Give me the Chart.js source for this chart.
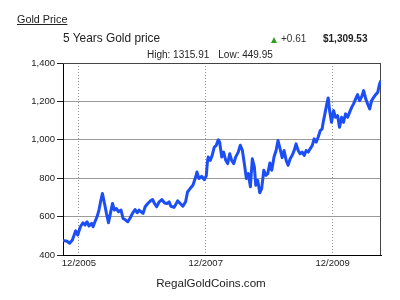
<!DOCTYPE html>
<html lang="en">
<head>
  <meta charset="UTF-8">
  <title>Gold Price</title>
  <script src="https://cdn.jsdelivr.net/npm/chart.js"></script>
  <style>
    body {
      margin: 0;
      background: #fff;
      font-family: "Liberation Sans", Arial, sans-serif;
      color: #222;
    }
    #wrap {
      position: relative;
      width: 400px;
      height: 300px;
      overflow: hidden;
    }
    #wrap canvas { position: absolute; left: 0; top: 0; }
    .txt { position: absolute; line-height: 1; white-space: nowrap; }
    #head { left: 17px; top: 14.4px; font-size: 10.8px; text-decoration: underline; }
    #title { left: 63px; top: 33.3px; font-size: 11.9px; }
    #tri {
      position: absolute; left: 271px; top: 36.5px; width: 0; height: 0;
      border-left: 3.5px solid transparent; border-right: 3.5px solid transparent;
      border-bottom: 6px solid #2e9e1f;
    }
    #chg { left: 281px; top: 34.2px; font-size: 10px; color: #333; }
    #last { left: 323px; top: 34.2px; font-size: 10px; font-weight: bold; }
    #hilo { left: 147px; top: 49.5px; font-size: 10px; }
    #hilo span + span { margin-left: 9px; }
    #site { left: 0; width: 422px; text-align: center; top: 276.8px; font-size: 11.6px; }
  </style>
</head>
<body>
  <div id="wrap">
    <canvas id="chartGold" width="400" height="300"></canvas>
    <div class="txt" id="head">Gold Price</div>
    <div class="txt" id="title">5 Years Gold price</div>
    <div id="tri"></div>
    <div class="txt" id="chg">+0.61</div>
    <div class="txt" id="last">$1,309.53</div>
    <div class="txt" id="hilo"><span>High: 1315.91</span><span>Low: 449.95</span></div>
    <div class="txt" id="site">RegalGoldCoins.com</div>
  </div>
  <script>
    // precios
    const dates = [
      '2005-08-31','2005-09-23','2005-10-08','2005-10-24','2005-11-12','2005-11-24','2005-12-09','2005-12-24',
      '2006-01-05','2006-01-16','2006-01-28','2006-02-12','2006-02-20','2006-03-03','2006-03-15','2006-03-26',
      '2006-04-07','2006-04-15','2006-04-27','2006-05-08','2006-05-20','2006-05-31','2006-06-12','2006-06-23',
      '2006-07-05','2006-07-16','2006-07-31','2006-08-12','2006-08-27','2006-09-08','2006-09-20','2006-10-05',
      '2006-10-20','2006-11-01','2006-11-12','2006-11-24','2006-12-05','2006-12-17','2007-01-01','2007-01-17',
      '2007-01-29','2007-02-09','2007-02-21','2007-03-08','2007-03-23','2007-04-08','2007-04-23','2007-05-04',
      '2007-05-14','2007-06-02','2007-06-22','2007-07-07','2007-07-22','2007-08-07','2007-08-18','2007-09-02',
      '2007-09-18','2007-10-04','2007-10-11','2007-10-23','2007-11-07','2007-11-22','2007-12-04','2007-12-10',
      '2007-12-15','2007-12-27','2008-01-07','2008-01-19','2008-01-30','2008-02-11','2008-02-19','2008-03-02',
      '2008-03-13','2008-03-25','2008-04-05','2008-04-17','2008-04-28','2008-05-10','2008-05-21','2008-06-05',
      '2008-06-17','2008-06-29','2008-07-10','2008-07-22','2008-08-02','2008-08-14','2008-08-25','2008-09-06',
      '2008-09-14','2008-09-25','2008-10-07','2008-10-18','2008-10-30','2008-11-11','2008-11-22','2008-12-04',
      '2008-12-15','2008-12-28','2009-01-09','2009-01-20','2009-02-01','2009-02-13','2009-02-24','2009-03-08',
      '2009-03-19','2009-03-31','2009-04-11','2009-04-23','2009-05-04','2009-05-16','2009-05-27','2009-06-08',
      '2009-06-20','2009-07-01','2009-07-13','2009-07-24','2009-08-05','2009-08-16','2009-08-28','2009-09-08',
      '2009-09-20','2009-10-01','2009-10-09','2009-10-17','2009-10-28','2009-11-05','2009-11-13','2009-11-24',
      '2009-12-06','2009-12-17','2009-12-29','2010-01-09','2010-01-21','2010-02-01','2010-02-13','2010-02-25',
      '2010-03-08','2010-03-20','2010-03-31','2010-04-12','2010-04-23','2010-05-05','2010-05-17','2010-05-28',
      '2010-06-09','2010-06-20','2010-07-02','2010-07-13','2010-07-25','2010-08-05','2010-08-17','2010-08-28',
      '2010-09-05'
    ];
    const prices = [
      475, 472, 461, 478, 526, 504, 547, 568,
      556, 573, 551, 565, 547, 573, 599, 634,
      689, 720, 668, 617, 568, 617, 668, 634,
      642, 625, 634, 590, 582, 573, 590, 617,
      637, 620, 634, 625, 617, 651, 668, 682,
      689, 668, 651, 677, 689, 671, 668, 677,
      654, 648, 682, 668, 654, 677, 728, 746,
      763, 806, 832, 798, 810, 793, 812, 880,
      910, 893, 919, 962, 970, 1000, 987, 910,
      936, 893, 876, 927, 893, 876, 910, 936,
      972, 944, 876, 798, 824, 755, 901, 858,
      763, 789, 724, 746, 841, 815, 824, 879,
      841, 910, 944, 996, 953, 907, 944, 893,
      867, 901, 918, 944, 979, 944, 927, 936,
      918, 944, 936, 953, 970, 1005, 988, 1013,
      1048, 1057, 1100, 1135, 1187, 1218, 1152, 1091,
      1152, 1117, 1126, 1065, 1117, 1091, 1135, 1117,
      1143, 1169, 1187, 1213, 1235, 1204, 1225, 1256,
      1213, 1187, 1161, 1204, 1221, 1235, 1247, 1291,
      1309
    ];
    const yTicks = [400, 600, 800, 1000, 1200, 1400];
    const xTickDates = ['2005-12-01', '2007-12-01', '2009-12-01'];
    const xTickLabels = ['12/2005', '12/2007', '12/2009'];

    function toMs(s) {
      const p = s.split('-').map(Number);
      return Date.UTC(p[0], p[1] - 1, p[2]);
    }

    const puntos = dates.map((d, i) => ({ x: toMs(d), y: prices[i] }));
    const tickMs = xTickDates.map(toMs);

    // marco superior y derecho del area
    const marco = {
      id: 'marco',
      beforeDatasetsDraw(chart) {
        const a = chart.chartArea;
        const ctx = chart.ctx;
        ctx.save();
        ctx.strokeStyle = '#444';
        ctx.lineWidth = 1;
        ctx.beginPath();
        ctx.moveTo(a.left, a.top + 0.5);
        ctx.lineTo(a.right - 0.5, a.top + 0.5);
        ctx.lineTo(a.right - 0.5, a.bottom);
        ctx.stroke();
        ctx.restore();
      }
    };

    Chart.defaults.font.family = '"Liberation Sans", Arial, sans-serif';

    new Chart(document.getElementById('chartGold'), {
      type: 'line',
      data: {
        datasets: [{
          data: puntos,
          borderColor: '#1c4ef5',
          borderWidth: 3,
          pointRadius: 0,
          tension: 0,
          borderJoinStyle: 'round',
          fill: false
        }]
      },
      options: {
        responsive: false,
        animation: false,
        layout: { padding: { top: 63, right: 19, bottom: 0, left: 0 } },
        plugins: { legend: { display: false }, tooltip: { enabled: false } },
        scales: {
          x: {
            type: 'linear',
            min: toMs('2005-08-31'),
            max: toMs('2010-09-05'),
            afterFit: s => { s.height = 45; },
            afterBuildTicks: s => { s.ticks = tickMs.map(v => ({ value: v })); },
            ticks: {
              padding: 3,
              color: '#222',
              font: { size: 9.5 },
              maxRotation: 0,
              autoSkip: false,
              callback: v => xTickLabels[tickMs.indexOf(v)]
            },
            grid: { color: '#999', drawTicks: false, lineWidth: 1 },
            border: { color: '#000', width: 1, dash: [1, 2] }
          },
          y: {
            min: 400,
            max: 1400,
            afterFit: s => { s.width = 63; },
            afterBuildTicks: s => { s.ticks = yTicks.map(v => ({ value: v })); },
            ticks: {
              padding: 2,
              color: '#222',
              font: { size: 9.5 },
              callback: v => v.toLocaleString('en-US')
            },
            grid: { color: '#9a9a9a', tickColor: '#222', tickLength: 6, lineWidth: 1 },
            border: { color: '#000', width: 1 }
          }
        }
      },
      plugins: [marco]
    });
  </script>
</body>
</html>
